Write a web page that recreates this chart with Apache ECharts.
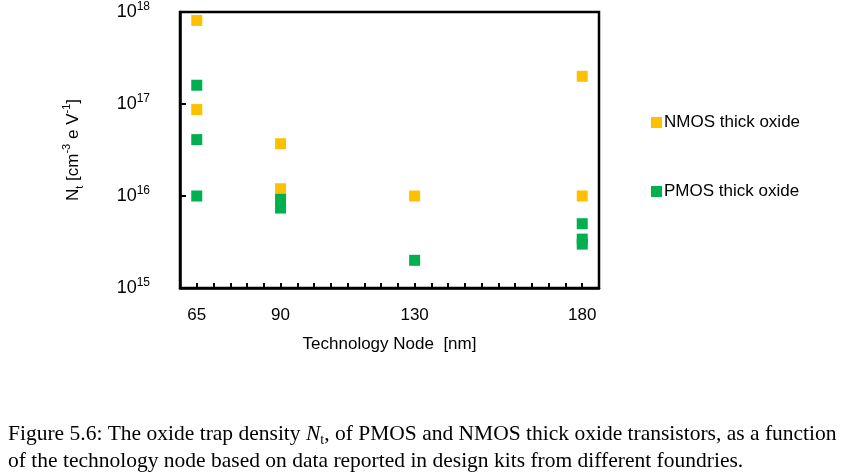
<!DOCTYPE html>
<html>
<head>
<meta charset="utf-8">
<script src="https://cdn.jsdelivr.net/npm/echarts@6/dist/echarts.min.js"></script>
<style>html,body{margin:0;padding:0;background:#fff}#c{width:842px;height:474px}</style>
</head>
<body>
<div id="c"></div>
<script>
const xLabels = [65, 90, 130, 180];
const nmosX = [65, 65, 90, 90, 130, 180, 180];
const nmosY = [8.1e17, 8.7e16, 3.7e16, 1.2e16, 1e16, 2e17, 1e16];
const pmosX = [65, 65, 65, 90, 90, 130, 180, 180, 180];
const pmosY = [1.6e17, 4.1e16, 1e16, 9.2e15, 7.4e15, 2e15, 5e15, 3.4e15, 3.0e15];

const sans = 'Liberation Sans';
const serif = 'Liberation Serif';
const chart = echarts.init(document.getElementById('c'));
chart.setOption({
  animation: false,
  backgroundColor: '#fff',
  grid: { left: 180, top: 12, width: 419, height: 276, show: true, borderColor: '#000', borderWidth: 2.5, backgroundColor: 'transparent' },
  legend: {
    orient: 'vertical', left: 646, top: 109, itemGap: 52,
    icon: 'rect', itemWidth: 11, itemHeight: 11,
    textStyle: { fontFamily: sans, fontSize: 17, color: '#000', padding: [0, 0, 0, -3] },
    data: ['NMOS thick oxide', 'PMOS thick oxide']
  },
  xAxis: {
    type: 'value', min: 60, max: 185, interval: 5,
    axisLine: { lineStyle: { color: '#000', width: 2.5 } },
    axisTick: { inside: true, length: 5, lineStyle: { color: '#000', width: 2 } },
    splitLine: { show: false },
    axisLabel: {
      margin: 19, fontFamily: sans, fontSize: 17, color: '#000',
      formatter: v => xLabels.includes(v) ? String(v) : ''
    },
    name: 'Technology Node  [nm]', nameLocation: 'middle', nameGap: 48,
    nameTextStyle: { fontFamily: sans, fontSize: 17, color: '#000' }
  },
  yAxis: {
    type: 'log', logBase: 10, min: 1e15, max: 1e18,
    axisLine: { lineStyle: { color: '#000', width: 2.5 } },
    axisTick: { inside: true, length: 6, lineStyle: { color: '#000', width: 2 } },
    minorTick: { show: false },
    splitLine: { show: false },
    axisLabel: {
      margin: 30,
      formatter: v => '{b|10}{s|' + Math.round(Math.log10(v)) + '}',
      rich: {
        b: { fontFamily: sans, fontSize: 18, color: '#000', lineHeight: 22 },
        s: { fontFamily: sans, fontSize: 12, color: '#000', verticalAlign: 'top', lineHeight: 12 }
      }
    },
    name: 'N{sub|t} [cm{sup|-3} e V{sup|-1}]', nameLocation: 'middle', nameGap: 95, nameRotate: 90,
    nameTextStyle: {
      fontFamily: sans, fontSize: 17, color: '#000', lineHeight: 24,
      rich: {
        sub: { fontFamily: sans, fontSize: 11, color: '#000', verticalAlign: 'bottom', lineHeight: 12 },
        sup: { fontFamily: sans, fontSize: 11, color: '#000', verticalAlign: 'top', lineHeight: 12 }
      }
    }
  },
  series: [
    { name: 'NMOS thick oxide', type: 'scatter', symbol: 'rect', symbolSize: 11,
      itemStyle: { color: '#FFC000', opacity: 1 },
      data: nmosX.map((x, i) => [x, nmosY[i]]) },
    { name: 'PMOS thick oxide', type: 'scatter', symbol: 'rect', symbolSize: 11,
      itemStyle: { color: '#00B050', opacity: 1 },
      data: pmosX.map((x, i) => [x, pmosY[i]]) }
  ],
  graphic: [
    { type: 'text', x: 8, y: 434,
      style: {
        text: 'Figure 5.6: The oxide trap density {i|N}{isub|t}, of PMOS and NMOS thick oxide transistors, as a function',
        font: '21.5px "' + serif + '"', fill: '#000', verticalAlign: 'middle', lineHeight: 27,
        rich: {
          i: { fontFamily: serif, fontStyle: 'italic', fontSize: 21.5, fill: '#000', lineHeight: 27 },
          isub: { fontFamily: serif, fontSize: 14, fill: '#000', verticalAlign: 'bottom', lineHeight: 12 }
        }
      } },
    { type: 'text', x: 8, y: 461,
      style: {
        text: 'of the technology node based on data reported in design kits from different foundries.',
        font: '21.5px "' + serif + '"', fill: '#000', verticalAlign: 'middle'
      } }
  ]
});
</script>
</body>
</html>
